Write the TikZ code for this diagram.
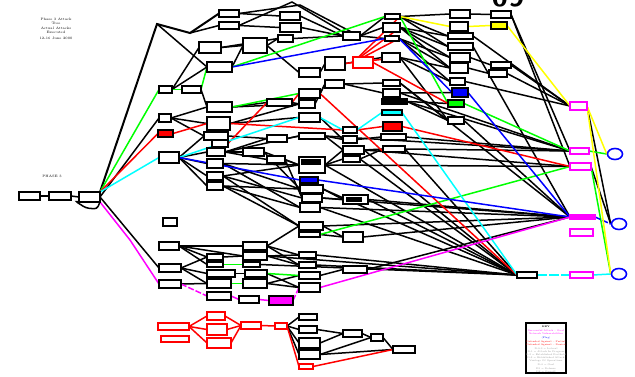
\documentclass[tikz,border=0pt]{standalone}
\usetikzlibrary{shapes.geometric,backgrounds}
\definecolor{pgreen}{RGB}{0,255,0}
\definecolor{pcyan}{RGB}{0,255,255}
\definecolor{pred}{RGB}{255,0,0}
\definecolor{pblue}{RGB}{0,0,255}
\definecolor{pmag}{RGB}{255,0,255}
\definecolor{pyel}{RGB}{255,255,0}
\definecolor{lbl}{RGB}{150,150,150}
\tikzset{
  bx/.style={draw,rectangle,line width=1.8pt,inner sep=0pt,outer sep=0pt,fill=white},
  rbx/.style={draw=pred},
  mbx/.style={draw=pmag},
  e/.style={line width=1.5pt,black},
  eg/.style={e,pgreen},
  er/.style={e,pred},
  ec/.style={e,pcyan},
  eb/.style={e,pblue},
  em/.style={e,pmag},
  ey/.style={e,pyel},
  goal/.style={draw=pblue,ellipse,line width=1.6pt,minimum width=15pt,minimum height=11pt,inner sep=0pt,fill=white},
  tiny/.style={font=\fontsize{3.4}{3.9}\selectfont,inner sep=0pt,align=center},
}
% box given by its corners: name, x1, y1, x2, y2
\newcommand\bx[6][]{\node[bx,#1,minimum width={(#5)-(#3)},minimum height={(#6)-(#4)}] (#2) at ({((#3)+(#5))/2},{((#4)+(#6))/2}) {};}
\begin{document}
\begin{tikzpicture}[x=1pt,y=-1pt]
\useasboundingbox (0,0) rectangle (635,377);

% ---------------- nodes ----------------
\bx[line width=2.2pt]{a0}{19}{192}{40}{200}
\bx{a1}{49}{192}{71}{200}
\bx{a2}{79}{192}{100}{202}
\bx{b1}{159}{86}{172}{93}
\bx{b2}{182}{86}{201}{93}
\bx{b3}{159}{114}{171}{122}
\bx[fill=pred]{b4}{158}{130}{173}{137}
\bx{b5}{159}{152}{179}{163}
\bx{b6}{163}{218}{177}{226}
\bx{b7}{159}{242}{179}{250}
\bx{b8}{159}{264}{181}{272}
\bx{b9}{159}{280}{181}{288}
\bx[rbx]{b10}{158}{323}{189}{330}
\bx[rbx]{b11}{161}{336}{189}{342}
\bx{c1}{219}{10}{239}{17}
\bx{c2}{219}{22}{239}{29}
\bx{c3}{199}{42}{221}{53}
\bx{c4}{207}{62}{232}{72}
\bx{c5}{207}{102}{232}{112}
\bx{c6}{207}{117}{230}{130}
\bx{c7}{204}{132}{228}{140}
\bx{c8}{212}{140}{228}{147}
\bx{c9}{207}{148}{225}{156}
\bx{c10}{207}{159}{223}{168}
\bx{c11}{207}{172}{223}{180}
\bx{c12}{207}{182}{223}{190}
\bx{c13}{207}{254}{223}{260}
\bx{c14}{207}{262}{223}{267}
\bx{c15}{207}{270}{235}{277}
\bx{c16}{207}{279}{231}{288}
\bx{c17}{207}{292}{231}{300}
\bx[rbx]{c18}{207}{312}{225}{320}
\bx[rbx]{c19}{207}{324}{227}{335}
\bx[rbx]{c20}{207}{338}{231}{348}
\bx{d1}{243}{38}{267}{53}
\bx{d2}{243}{148}{264}{156}
\bx{d3}{267}{99}{292}{106}
\bx{d4}{267}{135}{287}{142}
\bx{d5}{267}{156}{285}{163}
\bx{d6}{243}{242}{267}{250}
\bx{d7}{243}{252}{267}{260}
\bx{d8}{243}{262}{260}{267}
\bx{d9}{245}{270}{267}{277}
\bx{d10}{243}{279}{267}{288}
\bx{d11}{239}{296}{259}{303}
\bx[fill=pmag]{d12}{269}{296}{293}{305}
\bx[rbx]{d13}{241}{322}{261}{329}
\bx[rbx]{d14}{275}{323}{287}{329}
\bx{e1}{280}{12}{300}{20}
\bx{e2}{280}{23}{301}{32}
\bx{e3}{278}{35}{293}{42}
\bx{f1}{299}{68}{320}{77}
\bx{f2}{299}{89}{320}{98}
\bx{f3}{299}{100}{315}{108}
\bx{f4}{299}{113}{320}{122}
\bx{f5}{299}{133}{325}{139}
\bx{f6}{299}{157}{325}{173}
\bx[fill=pblue]{f7}{300}{177}{318}{183}
\bx{f8}{300}{185}{323}{193}
\bx{f9}{302}{194}{322}{202}
\bx{f10}{300}{203}{320}{212}
\bx{f11}{299}{222}{323}{230}
\bx{f12}{299}{232}{320}{237}
\bx{f13}{299}{252}{316}{258}
\bx{f14}{299}{262}{316}{268}
\bx{f15}{299}{272}{320}{279}
\bx{f16}{299}{283}{320}{292}
\bx[line width=2.2pt]{f17}{299}{314}{317}{320}
\bx{f18}{299}{326}{317}{333}
\bx{f19}{299}{338}{320}{348}
\bx{f20}{299}{350}{320}{359}
\bx[rbx]{f21}{299}{364}{313}{369}
\bx{g1}{325}{57}{345}{70}
\bx{g2}{325}{80}{344}{88}
\bx{g3}{343}{32}{360}{40}
\bx[rbx,line width=2.2pt]{g4}{353}{57}{373}{68}
\bx{g5}{343}{127}{357}{133}
\bx{g6}{343}{136}{357}{143}
\bx{g7}{343}{146}{364}{154}
\bx{g8}{343}{156}{360}{162}
\bx{g9}{343}{195}{368}{204}
\bx{g10}{343}{232}{363}{242}
\bx{g11}{343}{266}{367}{273}
\bx{g12}{343}{330}{362}{337}
\bx{g13}{371}{334}{383}{341}
\bx[line width=2.8pt]{g14}{393}{346}{415}{353}
\bx{h1}{385}{14}{400}{19}
\bx{h2}{383}{23}{400}{32}
\bx{h3}{385}{36}{399}{41}
\bx{h4}{382}{53}{400}{62}
\bx{h5}{383}{80}{400}{86}
\bx{h6}{383}{89}{400}{97}
\bx[fill=black]{h7}{382}{99}{407}{104}
\bx[fill=pcyan]{h8}{382}{110}{402}{115}
\bx[fill=pred]{h9}{383}{122}{402}{131}
\bx{h10}{381}{134}{406}{140}
\bx{h11}{383}{146}{405}{152}
\bx{i1}{450}{10}{470}{18}
\bx{i2}{450}{22}{468}{31}
\bx{i3}{448}{33}{473}{39}
\bx{i4}{448}{43}{473}{50}
\bx{i5}{450}{53}{470}{62}
\bx{i6}{450}{63}{468}{73}
\bx{i7}{450}{78}{465}{85}
\bx[fill=pblue]{i8}{452}{88}{468}{97}
\bx[fill=pgreen]{i9}{448}{100}{464}{107}
\bx{i10}{448}{117}{464}{124}
\bx{j1}{491}{11}{511}{18}
\bx[fill=pyel]{j2}{491}{22}{507}{29}
\bx{j3}{491}{62}{511}{68}
\bx{j4}{489}{70}{507}{77}
\bx{j5}{517}{272}{537}{278}
\bx[mbx]{k1}{570}{102}{587}{110}
\bx[mbx]{k2}{570}{148}{589}{154}
\bx[mbx]{k3}{570}{163}{591}{170}
\bx[mbx,fill=pmag]{k4}{570}{215}{595}{219}
\bx[mbx]{k5}{570}{229}{593}{236}
\bx[mbx]{k6}{570}{272}{593}{278}
\node[goal] (l1) at (615,154) {};
\node[goal] (l2) at (619,224) {};
\node[goal] (l3) at (619,274) {};
% filled inner bars
\fill (301,159) rectangle (321,165);
\fill (346,197) rectangle (362,202);

% ---------------- text ----------------
\node[tiny,anchor=north] (title) at (56,18) {Phase 3 Attack\\Tree\\[1.5pt]Actual Attacks\\Executed\\[1.5pt]12-16 June 2000};
\node[tiny] (ph) at (52,176) {PHASE 3};
\node[font=\sffamily\bfseries\fontsize{30}{30}\selectfont,inner sep=0pt,anchor=base] (big) at (508,7) {09};
\node[bx,line width=1.4pt,minimum width=40pt,minimum height=50pt,anchor=north west] (key) at (526,323) {};
\node[tiny,anchor=north,font=\fontsize{2.4}{3}\selectfont] (keytxt) at (546,326) {\textbf{KEY}\\[1pt]
  \textcolor{pmag}{Successful Attack -- Goal}\\\textcolor{pmag}{Network Vulnerabilities}\\[1pt]
  \textcolor{pblue}{(Flag)}\\[1pt]
  \textcolor{pred}{Defended Against -- Partial}\\\textcolor{pred}{Defended Against -- Denied}\\[1pt]
  \textcolor{lbl}{D-0-0 = Lateral}\\\textcolor{lbl}{D-1 = Attack In Progress}\\\textcolor{lbl}{D-2 = Established Foothold}\\\textcolor{lbl}{D-3 = Established Attack}\\\textcolor{lbl}{Vantage Of Operations}\\[1pt]
  \textcolor{lbl}{D-4 = Goal}\\[1pt]\textcolor{lbl}{D5 = Defense}\\\textcolor{lbl}{D6 = Overall}};

% ---------------- connectors ----------------
\begin{pgfonlayer}{background}
% root chain and the long branch over the top
\draw[e] (a0.east) -- (a1.west);
\draw[e] (a1.east) -- (a2.west);
\draw[e,rounded corners=3pt] (a2.south east) -- (97,209) -- (86,208) -- (75,201) -- (a2.south west);
\coordinate (bend1) at (157,24);
\coordinate (bend2) at (190,33);
\draw[e,line width=2pt] (a2.north east) -- (bend1) -- (bend2) -- (c1.west);
\draw[e] (bend2) -- (c2.west);
\draw[e] (bend1) -- (c4.west);
\coordinate (roof) at (292,2);
\draw[e] (c2.east) -- (roof) -- (g3.north west);
\draw[e] (c1.east) -- (300,5) -- (g3.north);

\foreach \s/\t in {a2/b3,a2/b8,
  b1/c3,b2/c5,b3/c5,b3/c6,b3/c7,b1/c4,
  b5/c7,b5/c9,b5/c10,b5/c11,b5/c12,
  c1/e1,c2/e2,c3/e3,c3/d1,c4/d1,d1/f1,d1/e3,e1/g3,e2/g3,e3/g3,
  c5/d3,c5/f3,c6/f3,c6/f4,c7/d4,c9/d2,c9/d4,c9/d5,c9/f5,c10/f6,c10/f8,
  c11/f6,c11/f9,c12/f8,c12/f10,c12/f11,c10/f10,c11/f11,d2/f6,d2/f8,d4/f5,d5/f6,d5/f9,
  d3/f3,f1/g1,f2/g2,f3/g2,f4/g6,f5/g6,f5/g7,f6/g8,f6/g7,f8/g9,f9/g9,
  g6/h10,g7/h11,g8/h11,g1/h4,g2/h5,g2/h6,g3/h1,g3/h2,g3/h3,
  h1/i1,h1/i3,h1/i4,h2/i3,h2/i4,h2/i5,h2/i6,h3/i5,h3/i6,h3/i7,h4/i6,h4/i7,h4/i10,h5/i10,
  h6/i8,h7/i10,h7/i9,
  i1/j1,i5/j3,i6/j4,i3/k1,i7/k1,j3/k1,j4/k1,j1/k2,j1/k3,i4/k4,
  f5/k2,f6/k3,g7/k3,h10/k2,h11/k2,h7/k2,h6/k2,h5/k4,i10/k4,g9/k4,f9/k4,f10/k4,f11/k4,g10/k4,
  f6/j5,f8/j5,f10/j5,g7/j5,g8/j5,h11/j5,d7/j5,d8/j5,f13/j5,f14/j5,g9/j5,
  k1/l2,k3/l2,
  b7/c13,b7/c14,b7/d6,b7/d7,b8/c15,b8/c16,b8/c13,b9/c16,c13/d7,c15/d9,d6/f11,d6/f13,d6/f14,
  d7/f13,d7/f14,d9/f16,d10/f15,d10/f16,f15/g11,g11/k4,f11/g10,f12/g10,
  d14/f17,d14/f18,d14/f19,d14/f20,f18/g12,f19/g12,f20/g13,g12/g13,g13/g14,f20/g14}
  \draw[e] (\s.east) -- (\t.west);

% coloured attack paths
\foreach \s/\t in {b1/b2,b2/c4,c4/h1,c5/f2,h1/i9,i9/k2,k2/l1,f12/k3,k3/l3,c14/d8,c16/d10,d9/f15}
  \draw[eg] (\s.east) -- (\t.west);
\draw[eg] (a2.north east) -- (b1.west);
\foreach \s/\t in {b4/c6,c6/g5,g5/h9,h9/k3,g1/g4,h1/g4,h2/g4,h3/g4,h4/g4,g4/i9,c8/d3,d3/f2,f2/j5,
  b10/c18,b10/c19,b10/c20,c18/d13,c19/d13,c20/d13,d13/d14,d14/f21,f21/g14}
  \draw[er] (\s.east) -- (\t.west);
\draw[er] (a2.north east) -- (b4.west);
\foreach \s/\t in {b5/f4,f4/g5,g5/h8,h8/j5,k6/l3}
  \draw[ec] (\s.east) -- (\t.west);
\draw[ec] (a2.north east) -- (b5.west);
\draw[ec,dash pattern=on 10pt off 2pt] (j5.east) -- (k6.west);
\foreach \s/\t in {b5/f7,f7/k4,c4/h3,h3/i8,i8/k4}
  \draw[eb] (\s.east) -- (\t.west);
\draw[eb,dash pattern=on 6pt off 2pt] (k4.east) -- (l2.west);
\draw[em] (a2.south east) -- (130,240) -- (b9.west);
\draw[em,dash pattern=on 6pt off 2pt] (b9.east) -- (c17.west);
\draw[em] (c17.east) -- (d11.west);
\draw[em] (d11.east) -- (d12.west);
\draw[em,dash pattern=on 6pt off 2pt] (d12.east) -- (f16.west);
\draw[em] (f16.east) -- (k4.west);
\foreach \s/\t in {h1/i2,i2/j2,j2/k1,k1/l1,k1/l3}
  \draw[ey] (\s.east) -- (\t.west);
\end{pgfonlayer}
\end{tikzpicture}
\end{document}
